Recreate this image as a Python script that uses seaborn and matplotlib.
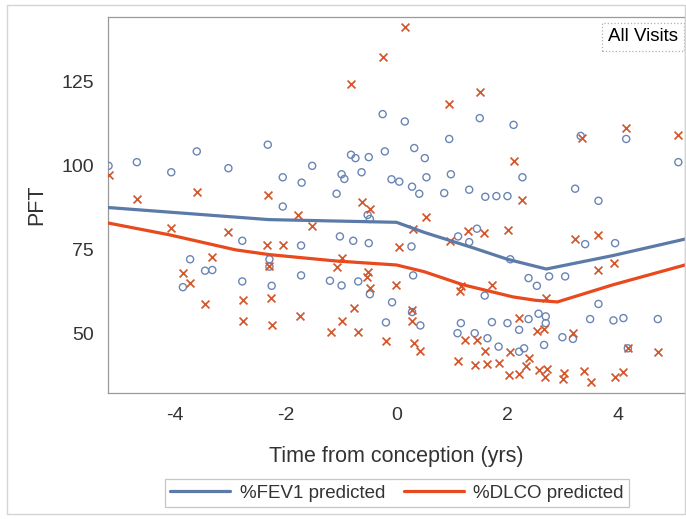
import matplotlib
matplotlib.use("Agg")
import matplotlib.pyplot as plt
from matplotlib.patches import Rectangle
from matplotlib.lines import Line2D
import seaborn as sns
import pandas as pd

# ---- data ----
fev1_x = [-5.19, -4.68, -4.06, -3.6, -3.03, -2.32, -2.05, -1.71, -2.05,
          -2.78, -1.72, -3.72, -2.29, -2.29, -3.45, -3.32, -3.85, -2.78, -2.25, -1.72,
          -0.25, 0.15, 1.5, 0.95, 0.32, -0.21, 0.51, -0.82, -0.74, -0.5, -1.52, -0.99,
          -0.94, -0.63, -0.09, 0.05, 0.54, 0.98, 0.28, 0.41, 0.86, 1.31, 1.6, 1.8, 2.0,
          -1.08, -0.52, -0.48, 1.45,
          -1.02, -0.78, -0.5, 0.27, 1.11, 1.31, -1.2, -0.99, -0.69, -0.48, 0.3, -0.08,
          -0.19, 0.28, 0.43, 1.59, 1.16, 1.72, 1.1, 1.41, 1.64,
          2.11, 2.27, 3.32, 4.14, 5.08, 3.22, 3.64,
          3.4, 3.94, 2.05, 2.38, 2.53, 2.75, 3.04, 3.64, 2.0, 2.38, 2.56, 2.69, 2.69,
          2.21, 3.49, 3.91, 4.09, 4.71, 2.99, 3.18, 1.84, 2.21, 2.3, 2.66, 4.17]
fev1_y = [100.0, 101.1, 98.1, 104.3, 99.3, 106.3, 96.6, 95.0, 87.9,
          77.7, 76.3, 72.2, 72.2, 70.0, 68.8, 69.0, 63.9, 65.6, 64.3, 67.4,
          115.4, 113.2, 114.2, 108.0, 105.3, 104.3, 102.3, 103.3, 102.3, 102.6, 100.0, 97.5,
          96.1, 98.1, 96.0, 95.3, 96.6, 97.5, 93.8, 91.7, 91.9, 92.9, 90.8, 91.0, 91.0,
          91.7, 85.4, 84.2, 81.3,
          79.0, 77.7, 77.0, 76.0, 79.0, 77.3, 65.8, 64.4, 65.6, 61.8, 67.4, 59.4,
          53.4, 56.5, 52.5, 61.4, 53.2, 53.5, 50.2, 50.2, 48.7,
          112.2, 96.6, 108.9, 108.0, 101.1, 93.2, 89.6,
          76.7, 77.0, 72.2, 66.6, 64.3, 67.1, 67.1, 58.9, 53.2, 54.4, 56.0, 55.2, 53.2,
          51.2, 54.4, 54.0, 54.7, 54.4, 49.0, 48.5, 46.2, 44.7, 45.7, 46.7, 45.7]

dlco_x = [-5.19, -4.68, -3.6, -2.32, -1.77, -4.06, -3.03, -2.34, -2.05, -3.33, -2.29,
          -3.85, -3.72, -3.45, -2.76, -2.27, -2.76, -2.25, -1.74,
          0.15, -0.25, -0.82, 1.5, 0.95, -0.63, -0.48, 0.54, -1.53,
          0.05, 0.3, 1.29, 1.58, 0.96, -0.99, -1.08, -0.51, -0.54, -0.48, -0.01, -0.76,
          -0.99, -1.18, -0.69, -0.19, 0.28, 0.28, 0.32, 0.43, 1.17, 1.14, 1.73, 1.23,
          1.45, 1.59, 1.1, 1.41, 1.64,
          2.11, 2.27, 3.34, 4.14, 5.08, 2.01,
          3.22, 3.64, 3.92, 3.64, 2.69, 2.21, 2.53, 2.66, 3.19, 4.17, 4.71, 2.05, 2.39,
          1.84, 2.33, 2.02, 2.21, 2.56, 2.72, 2.68, 3.02, 3.01, 3.38, 3.5, 3.94, 4.09]
dlco_y = [97.3, 90.2, 92.1, 91.2, 85.4, 81.5, 80.3, 76.5, 76.3, 73.0, 70.2,
          68.1, 65.1, 58.8, 60.1, 60.8, 53.7, 52.7, 55.2,
          141.3, 132.4, 124.3, 122.1, 118.4, 89.2, 87.2, 84.9, 82.0,
          75.8, 81.3, 80.5, 80.0, 77.5, 72.5, 70.0, 68.5, 66.9, 63.6, 64.6, 57.8,
          53.7, 50.5, 50.7, 47.9, 57.1, 53.7, 47.2, 44.9, 64.1, 62.8, 64.6, 48.2,
          48.2, 44.9, 41.8, 40.6, 41.0,
          101.3, 89.9, 108.2, 111.4, 109.2, 81.0,
          78.3, 79.5, 71.0, 69.0, 60.6, 54.7, 51.0, 51.5, 50.2, 45.7, 44.5, 44.5, 42.8,
          41.3, 40.3, 37.8, 38.0, 39.3, 39.6, 37.3, 38.3, 36.6, 38.8, 35.6, 37.3, 38.6]

fev1_fit_x = [-5.2, -2.3, 0.0, 0.5, 1.4, 2.0, 2.7, 3.9, 5.2]
fev1_fit_y = [87.6, 84.0, 83.2, 80.2, 75.5, 72.2, 69.3, 73.3, 78.2]
dlco_fit_x = [-5.2, -4.1, -2.9, -2.3, -1.1, 0.0, 0.5, 1.2, 2.1, 2.5, 2.9, 3.9, 5.2]
dlco_fit_y = [83.0, 79.5, 75.0, 73.6, 71.7, 70.5, 68.5, 64.6, 61.0, 60.0, 59.5, 64.6, 70.5]

x_ticks = [-4, -2, 0, 2, 4]
y_ticks = [50, 75, 100, 125]
series_labels = ["%FEV1 predicted", "%DLCO predicted"]

# ---- style ----
sns.set_style("white")
plt.rcParams["font.family"] = ["Liberation Sans", "DejaVu Sans"]

BLUE_LINE = "#5b7aa8"
RED_LINE = "#e8491d"
BLUE_PT = "#6a85b5"
RED_PT = "#d2572c"
GRAY = "#9a9a9a"
TXT = "#333333"

fig = plt.figure(figsize=(6.86, 5.19), dpi=100)
ax = fig.add_axes([108/686, 1 - 393/519, (685-108)/686, (393-17)/519])

sns.scatterplot(x=fev1_x, y=fev1_y, ax=ax, marker="o", s=26,
                facecolor="none", edgecolor=BLUE_PT, linewidth=1.0, zorder=3)
sns.scatterplot(x=dlco_x, y=dlco_y, ax=ax, marker="x", s=32,
                color=RED_PT, linewidth=1.25, zorder=3)
sns.lineplot(x=fev1_fit_x, y=fev1_fit_y, ax=ax, color=BLUE_LINE, linewidth=2.3,
             zorder=4, sort=False)
sns.lineplot(x=dlco_fit_x, y=dlco_fit_y, ax=ax, color=RED_LINE, linewidth=2.3,
             zorder=4, sort=False)

ax.set_xlim(-5.2, 5.2)
ax.set_ylim(32.4, 144.3)
ax.set_xticks(x_ticks)
ax.set_yticks(y_ticks)
ax.set_xticklabels([str(t) for t in x_ticks])
ax.set_yticklabels([str(t) for t in y_ticks])
ax.tick_params(axis="both", direction="out", length=5, width=0.8, color=GRAY,
               labelsize=14, labelcolor=TXT, pad=5)
for sp in ax.spines.values():
    sp.set_color(GRAY)
    sp.set_linewidth(0.9)
ax.set_xlabel("Time from conception (yrs)", fontsize=15.5, color=TXT, labelpad=16)
ax.set_ylabel("PFT", fontsize=15.5, color=TXT, labelpad=10)

ax.text(0.988, 0.97, "All Visits", transform=ax.transAxes, ha="right", va="top",
        fontsize=13.5, color="black",
        bbox=dict(boxstyle="square,pad=0.3", facecolor="white",
                  edgecolor="#b0b0b0", linestyle=":", linewidth=0.9))

handles = [Line2D([0], [0], color=BLUE_LINE, lw=2.3),
           Line2D([0], [0], color=RED_LINE, lw=2.3)]
leg = fig.legend(handles, series_labels, loc="center", ncol=2,
                 bbox_to_anchor=(397/686, 1 - 493/519), frameon=True, fontsize=13.5,
                 handlelength=3.2, columnspacing=1.0, handletextpad=0.5,
                 borderpad=0.3, fancybox=False)
leg.get_frame().set_edgecolor("#b8b8b8")
leg.get_frame().set_linewidth(0.9)
for t in leg.get_texts():
    t.set_color(TXT)

fig.patches.append(Rectangle((7/686, 1 - 514/519), (685-7)/686, (514-5)/519,
                             transform=fig.transFigure, fill=False,
                             edgecolor="#d4d4d4", linewidth=1.0, zorder=0))

fig.savefig("out.png", dpi=100)
